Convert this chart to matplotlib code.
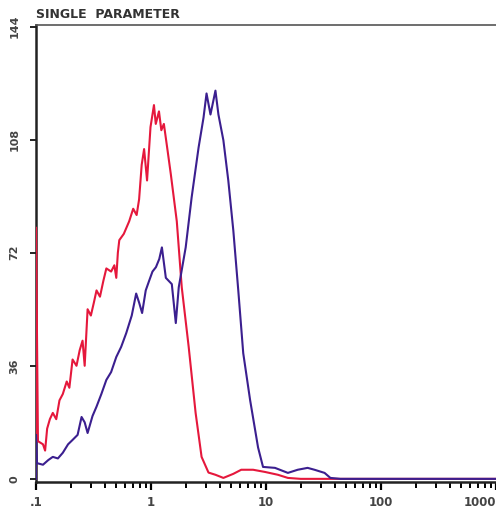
import numpy as np
import matplotlib.pyplot as plt
from matplotlib.ticker import FixedLocator, NullFormatter

# histogram values (x = fluorescence, y = counts)
red_x = [0.1, 0.1, 0.104, 0.115, 0.120, 0.125, 0.132, 0.140, 0.150, 0.160,
         0.171, 0.185, 0.195, 0.208, 0.225, 0.240, 0.254, 0.265, 0.281, 0.300,
         0.318, 0.336, 0.360, 0.385, 0.409, 0.450, 0.480, 0.499, 0.515, 0.530,
         0.580, 0.646, 0.700, 0.750, 0.788, 0.830, 0.871, 0.924, 0.990, 1.061,
         1.10, 1.173, 1.230, 1.294, 1.40, 1.487, 1.676, 1.851, 2.127, 2.443,
         2.753, 3.162, 3.634, 4.26, 5.2, 6.09, 7.72, 9.80, 12.69, 15.5,
         20, 1000]
red_y = [0, 80, 12, 11, 9, 16, 19, 21, 19, 25,
         27, 31, 29, 38, 36, 41, 44, 36, 54, 52,
         56, 60, 58, 63, 67, 66, 68, 64, 72, 76,
         78, 82, 86, 84, 89, 100, 105, 95, 112, 119,
         113, 117, 111, 113, 104, 97, 82, 61, 42, 21,
         7, 2, 1.3, 0.3, 1.6, 2.9, 2.9, 2.2, 1.3, 0.3,
         0, 0]

blue_x = [0.1, 0.1, 0.102, 0.115, 0.128, 0.140, 0.155, 0.171, 0.190, 0.208,
          0.230, 0.249, 0.265, 0.281, 0.310, 0.336, 0.370, 0.409, 0.450, 0.499,
          0.550, 0.609, 0.680, 0.743, 0.790, 0.837, 0.900, 0.962, 1.03, 1.104,
          1.18, 1.244, 1.346, 1.517, 1.643, 1.743, 2.003, 2.256, 2.593, 2.862,
          3.04, 3.29, 3.634, 3.857, 4.26, 4.70, 5.2, 5.74, 6.34, 7.28,
          8.53, 9.42, 11.97, 15.5, 18.88, 23.0, 26.4, 32.3, 36.3, 44.3,
          1000]
blue_y = [0, 14, 5, 4.5, 6, 7, 6.5, 8.3, 11, 12.4,
          14, 19.7, 18, 14.6, 20, 23, 27, 31.5, 34, 38.8,
          42, 46.4, 52, 59, 56, 52.8, 60, 63, 66, 67.4,
          70, 73.7, 64, 62, 49.6, 61, 73.7, 89.6, 105.5, 115,
          122.7, 116, 123.6, 116, 107.8, 95, 79, 60, 40, 25,
          10, 3.8, 3.5, 1.9, 2.9, 3.5, 2.9, 1.9, 0.3, 0,
          0]

xticks = [0.1, 1, 10, 100, 1000]
xtick_labels = [".1", "1", "10", "100", "1000"]
yticks = [0, 36, 72, 108, 144]

fig = plt.figure(figsize=(4.96, 5.11), dpi=100)
ax = fig.add_axes([36/496, 29/511, 460/496, 457/511])

ax.plot(red_x, red_y, color='#e5183c', lw=1.5, zorder=3)
ax.plot(blue_x, blue_y, color='#3b1f8f', lw=1.5, zorder=3)

ax.set_xscale('log')
ax.set_xlim(0.1, 1000)
ax.set_ylim(-1, 144.5)

ax.xaxis.set_major_locator(FixedLocator(xticks))
ax.set_xticklabels(xtick_labels)
minors = [m * 10.0**e for e in range(-1, 3) for m in range(2, 10)]
ax.xaxis.set_minor_locator(FixedLocator(minors))
ax.xaxis.set_minor_formatter(NullFormatter())
ax.set_yticks(yticks)
ax.set_yticklabels([str(v) for v in yticks], rotation=90, va='center')

for lab in ax.get_xticklabels():
    lab.set_fontweight('bold')
    lab.set_fontsize(8.5)
    lab.set_color('#444444')
for lab in ax.get_yticklabels():
    lab.set_fontweight('bold')
    lab.set_fontsize(8)
    lab.set_color('#444444')

# the last label sits on the figure edge, keep it inside
ax.get_xticklabels()[-1].set_ha('right')

ax.tick_params(axis='x', which='major', length=6, width=1.6, direction='out', pad=4)
ax.tick_params(axis='x', which='minor', length=4, width=1.4, direction='out')
ax.tick_params(axis='y', which='major', length=4, width=1.2, direction='out', pad=8)

for side in ['left', 'bottom']:
    ax.spines[side].set_linewidth(1.8)
    ax.spines[side].set_color('#222222')
ax.spines['top'].set_linewidth(1.2)
ax.spines['top'].set_color('#555555')
ax.spines['right'].set_visible(False)

fig.text(36/496, 1 - 14/511, "SINGLE  PARAMETER", ha='left', va='center',
         color='#333333', fontsize=9, fontweight='bold')

fig.savefig('out.png', dpi=100)
